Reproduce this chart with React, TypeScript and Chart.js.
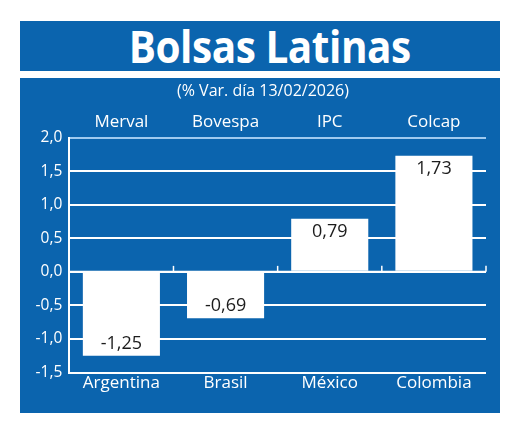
import React, { useEffect, useRef } from "react";
import { Chart, registerables } from "chart.js";

Chart.register(...registerables);

const countries = ["Argentina", "Brasil", "México", "Colombia"];
const indices = ["Merval", "Bovespa", "IPC", "Colcap"];
const changes = [-1.25, -0.69, 0.79, 1.73];
const yTickValues = [2.0, 1.5, 1.0, 0.5, 0.0, -0.5, -1.0, -1.5];
const yTickLabels = ["2,0", "1,5", "1,0", "0,5", "0,0", "-0,5", "-1,0", "-1,5"];

const BLUE = "#0b64ae";
const FONT = "'Open Sans', 'Noto Sans', sans-serif";

const fmt = (v: number) => v.toFixed(2).replace(".", ",");

const zeroLinePlugin = {
  id: "zeroLine",
  afterDatasetsDraw(chart: any) {
    const { ctx, chartArea, scales } = chart;
    const y0 = scales.y.getPixelForValue(0);
    const xs = scales.x;
    ctx.save();
    ctx.strokeStyle = "#ffffff";
    ctx.lineWidth = 2;
    ctx.beginPath();
    ctx.moveTo(chartArea.left, y0);
    ctx.lineTo(chartArea.right, y0);
    ctx.stroke();
    const n = countries.length;
    const step = (chartArea.right - chartArea.left) / n;
    ctx.lineWidth = 1.5;
    for (let i = 1; i <= n; i++) {
      const bx = i < n ? (xs.getPixelForValue(i - 1) + xs.getPixelForValue(i)) / 2 : chartArea.left + step * n;
      ctx.beginPath();
      ctx.moveTo(bx, y0);
      ctx.lineTo(bx, y0 - 6);
      ctx.stroke();
    }
    ctx.restore();
  },
};

const valueLabelPlugin = {
  id: "valueLabels",
  afterDatasetsDraw(chart: any) {
    const { ctx } = chart;
    const meta = chart.getDatasetMeta(0);
    ctx.save();
    ctx.fillStyle = "#1c1c1c";
    ctx.font = `18px ${FONT}`;
    ctx.textAlign = "center";
    ctx.textBaseline = "middle";
    meta.data.forEach((bar: any, i: number) => {
      const v = changes[i];
      const y = v < 0 ? bar.y - 12 : bar.y + 13;
      ctx.fillText(fmt(v), bar.x, y);
    });
    ctx.restore();
  },
};

function BarChart() {
  const ref = useRef<HTMLCanvasElement | null>(null);
  useEffect(() => {
    if (!ref.current) return;
    const chart = new Chart(ref.current, {
      type: "bar",
      data: {
        labels: countries,
        datasets: [
          {
            data: changes,
            backgroundColor: "#ffffff",
            borderWidth: 0,
            barPercentage: 0.74,
            categoryPercentage: 1,
          },
        ],
      },
      options: {
        animation: false,
        responsive: false,
        maintainAspectRatio: false,
        layout: { padding: { left: 0, right: 14, top: 0, bottom: 0 } },
        plugins: { legend: { display: false }, tooltip: { enabled: false }, title: { display: false } },
        scales: {
          x: {
            position: "bottom",
            offset: true,
            grid: { display: false, drawTicks: false, tickLength: 0 },
            border: { display: false },
            ticks: { color: "#ffffff", font: { family: FONT, size: 17 }, padding: 0 },
            afterFit: (s: any) => {
              s.height = 40.5;
            },
          },
          x2: {
            type: "category",
            position: "top",
            labels: indices,
            offset: true,
            grid: { display: false, drawTicks: false, tickLength: 0 },
            border: { display: false },
            ticks: { color: "#ffffff", font: { family: FONT, size: 17 }, padding: 5 },
            afterFit: (s: any) => {
              s.height = 59.7;
            },
          },
          y: {
            min: -1.5,
            max: 2,
            afterBuildTicks: (s: any) => {
              s.ticks = yTickValues.map((v) => ({ value: v }));
            },
            ticks: {
              color: "#ffffff",
              font: { family: FONT, size: 15.5 },
              padding: 7,
              callback: (v: any) => {
                const i = yTickValues.findIndex((t) => Math.abs(t - Number(v)) < 1e-6);
                return i >= 0 ? yTickLabels[i] : "";
              },
            },
            grid: {
              drawTicks: false,
              lineWidth: 2,
              color: (c: any) => (c.tick && Math.abs(c.tick.value - 2) < 1e-6 ? "#9fcaf0" : "#ffffff"),
            },
            border: { display: true, color: "#ffffff", width: 2 },
            afterFit: (s: any) => {
              s.width = 49.3;
            },
          },
        },
      },
      plugins: [zeroLinePlugin, valueLabelPlugin],
    } as any);
    return () => chart.destroy();
  }, []);
  return <canvas ref={ref} width={480} height={335} style={{ width: 480, height: 335, display: "block" }} />;
}

export default function App() {
  return (
    <div style={{ position: "absolute", left: 0, top: 0, width: 520, height: 427, background: "#ffffff", fontFamily: FONT }}>
      <div
        style={{
          position: "absolute",
          left: 20,
          top: 21,
          width: 480,
          height: 50,
          background: BLUE,
          color: "#ffffff",
          display: "flex",
          alignItems: "center",
          justifyContent: "center",
          overflow: "hidden",
        }}
      >
        <span style={{ fontWeight: 700, fontSize: 45, lineHeight: "50px", marginLeft: 20, letterSpacing: -0.5, display: "inline-block", transform: "scaleX(0.9)" }}>
          Bolsas Latinas
        </span>
      </div>
      <div style={{ position: "absolute", left: 20, top: 78, width: 480, height: 335, background: BLUE }}>
        <BarChart />
        <div
          style={{
            position: "absolute",
            left: 0,
            top: 2,
            width: 480,
            textAlign: "center",
            color: "#ffffff",
            fontSize: 16,
            lineHeight: "20px",
            paddingLeft: 6,
            boxSizing: "border-box",
          }}
        >
          (% Var. día 13/02/2026)
        </div>
      </div>
    </div>
  );
}
